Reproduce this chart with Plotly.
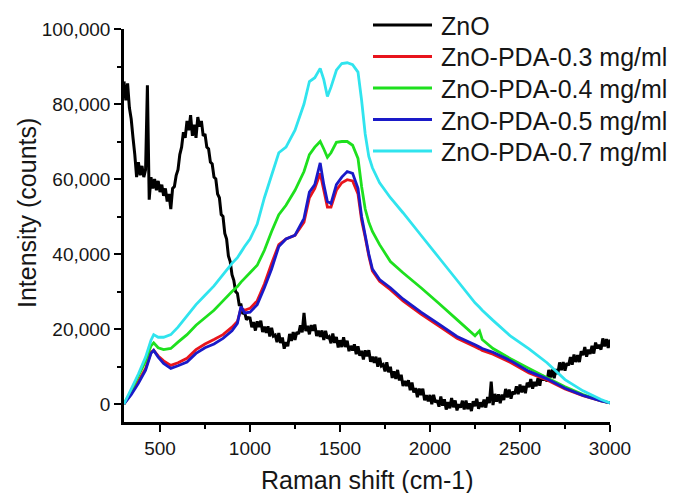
import plotly.graph_objects as go

# ---------------------------------------------------------------- data
series_names = [
    "ZnO",
    "ZnO-PDA-0.3 mg/ml",
    "ZnO-PDA-0.4 mg/ml",
    "ZnO-PDA-0.5 mg/ml",
    "ZnO-PDA-0.7 mg/ml",
]
series_colors = ["#000000", "#e8141c", "#1ee01e", "#1a1ac8", "#30e4ee"]

# bare ZnO spectrum, sampled every 10 cm-1 from 300 to 3000
zno_shift = list(range(300, 3001, 10))
zno_counts = [
    86000, 81000, 85500, 79000, 76000, 71000, 66500, 60500, 64500, 61000,   # 300-390
    63500, 60500, 62500, 85000, 54500, 60500, 57500, 60000, 57000, 59500,   # 400-490
    56500, 58500, 55500, 57500, 54000, 56000, 52000, 57500, 58000, 61000,   # 500-590
    62500, 66500, 68500, 72500, 71000, 75500, 73000, 77000, 71500, 74500,   # 600-690
    71000, 76500, 74000, 75500, 71500, 72000, 68500, 68000, 64500, 64000,   # 700-790
    60500, 60000, 56000, 55000, 50500, 50000, 45500, 44000, 39500, 38000,   # 800-890
    34500, 33000, 30000, 29500, 26500, 26500, 24000, 24500, 22500, 23000,   # 900-990
    22900, 20460, 21820, 19580, 22040, 20500, 22200, 19200, 20600, 19000,   # 1000-1090
    20700, 18000, 20300, 18100, 18400, 16500, 18940, 16280, 17720, 14760,   # 1100-1190
    16500, 15400, 18700, 16800, 19200, 17100, 19200, 18700, 21000, 19100,   # 1200-1290
    24300, 19460, 20820, 18580, 21040, 19500, 21180, 18160, 19540, 17920,   # 1300-1390
    19600, 17060, 19520, 17480, 17940, 16200, 18800, 16300, 17900, 15100,   # 1400-1490
    17000, 15200, 17800, 15200, 16900, 14100, 15500, 14300, 15900, 13300,   # 1500-1590
    15400, 12900, 14200, 11900, 14300, 12700, 14340, 11280, 12620, 10960,   # 1600-1690
    12600, 9960, 12320, 10180, 10540, 8700, 11140, 8480, 9920, 6960,        # 1700-1790
    8700, 6700, 9100, 6300, 7800, 4800, 6120, 4840, 6360, 3680,             # 1800-1890
    5700, 3080, 4260, 1840, 4120, 2400, 4060, 1020, 2380, 740,              # 1900-1990
    2400, -80, 2440, 460, 980, -700, 1980, -440, 1240, -1480,               # 2000-2090
    500, -1160, 1580, -880, 960, -1700, -40, -980, 880, -1460,              # 2100-2190
    900, -1360, 180, -1880, 760, -600, 1420, -1260, 460, -820,              # 2200-2290
    1200, -960, 1880, 220, 6000, -300, 2700, 600, 2600, 200,                # 2300-2390
    2500, 1060, 4020, 1780, 3840, 1400, 3300, 2600, 4700, 2600,             # 2400-2490
    5200, 3100, 4800, 2900, 5700, 4500, 6640, 4080, 5920, 4760,             # 2500-2590
    6900, 4860, 7820, 6280, 7240, 6000, 9100, 7100, 9200, 6900,             # 2600-2690
    9300, 8000, 11100, 9000, 11200, 8900, 10900, 10300, 12500, 10500,       # 2700-2790
    13200, 11200, 13000, 11200, 14100, 13000, 15160, 12620, 14480, 13340,   # 2800-2890
    15500, 13440, 16380, 14820, 15760, 14500, 17480, 15360, 17340, 14920,   # 2900-2990
    17200,                                                                  # 3000
]

# ZnO-PDA spectra share one sampling grid
pda_shift = [
    300, 340, 380, 420, 450, 465, 490, 520, 560, 600,
    650, 700, 750, 800, 850, 900, 930, 950, 970, 1000,
    1040, 1080, 1120, 1160, 1200, 1250, 1300, 1330, 1360, 1390,
    1410, 1430, 1450, 1480, 1510, 1540, 1570, 1600, 1620, 1640,
    1660, 1680, 1720, 1780, 1850, 1950, 2050, 2150, 2250, 2275,
    2290, 2350, 2450, 2550, 2650, 2750, 2850, 2950, 3000,
]
pda_03 = [
    0, 2800, 6000, 9500, 13800, 14300, 12800, 11500, 10300, 11000,
    12200, 14500, 16000, 17200, 18500, 20500, 22000, 25500, 25000, 25500,
    27500, 32000, 37500, 42500, 44000, 45000, 48500, 55000, 57500, 61500,
    57000, 52500, 52500, 57000, 59000, 59800, 59500, 56000, 49000, 44500,
    39500, 35500, 32700, 30500, 27500, 24000, 20800, 17500, 15300, 14700,
    14300, 13300, 11000, 8300, 6400, 4000, 2200, 800, 300,
]
pda_04 = [
    0, 3500, 7500, 11500, 15500, 16300, 15000, 14500, 14800, 16500,
    18500, 21000, 23000, 25000, 27500, 30000, 31300, 32500, 33500, 35000,
    37000, 41000, 46000, 50500, 53000, 57000, 62000, 66500, 68500, 70000,
    68000, 65800, 67000, 69800, 70000, 70000, 69000, 65500, 58000, 52000,
    48500, 46000, 42500, 38000, 35000, 31000, 26800, 22500, 18200, 19500,
    17200, 14800, 12000, 9500, 7000, 4600, 2500, 900, 300,
]
pda_05 = [
    0, 2500, 5500, 9000, 13500, 14300, 12500, 10800, 9500, 10200,
    11200, 13500, 15000, 16000, 17500, 19500, 21500, 26000, 24300, 24500,
    26500, 31000, 36000, 42000, 44000, 45000, 49500, 56500, 58500, 64300,
    58500, 54000, 53500, 58500, 60500, 62000, 61500, 57500, 50000, 45000,
    40000, 36000, 33200, 31000, 28000, 24500, 21300, 18000, 15800, 15200,
    14800, 13800, 11500, 8700, 6700, 4200, 2300, 800, 300,
]
pda_07 = [
    0, 4000, 8000, 12500, 17000, 18500, 17800, 17800, 18500, 20500,
    23500, 26500, 29000, 31500, 34500, 37500, 39000, 40500, 42000, 44000,
    48000, 55000, 61000, 67000, 68500, 73000, 80000, 86000, 87000, 89500,
    86500, 82000, 84500, 89000, 90800, 91000, 90500, 88500, 81000, 72000,
    66000, 63000, 59000, 55000, 51000, 45000, 39000, 33000, 27000, 25800,
    25000, 22300, 18000, 14700, 11000, 6500, 3500, 1200, 300,
]

x_ticks = [500, 1000, 1500, 2000, 2500, 3000]
y_ticks = [0, 20000, 40000, 60000, 80000, 100000]

# ---------------------------------------------------------------- layout geometry (px)
W, H = 675, 494
L, R, T, B = 124, 65, 29, 72
PW, PH = W - L - R, H - T - B


def px_x(px):
    return (px - L) / PW


def px_y(py):
    return (H - B - py) / PH


FONT = "Liberation Sans, Arial, sans-serif"
TEXT = "#161616"

fig = go.Figure()

xs = [zno_shift, pda_shift, pda_shift, pda_shift, pda_shift]
ys = [zno_counts, pda_03, pda_04, pda_05, pda_07]
widths = [3.0, 2.8, 2.8, 2.8, 2.8]
for name, color, x, y, w in zip(series_names, series_colors, xs, ys, widths):
    fig.add_trace(go.Scatter(
        x=x, y=y, mode="lines", name=name,
        line=dict(color=color, width=w, simplify=False),
        showlegend=False, hoverinfo="skip",
    ))

# legend drawn as line samples with labels
shapes = []
annotations = []
row_y = [25, 56.5, 88, 119.5, 151]
for name, color, ry in zip(series_names, series_colors, row_y):
    shapes.append(dict(
        type="line", xref="paper", yref="paper",
        x0=px_x(373), x1=px_x(432), y0=px_y(ry), y1=px_y(ry),
        line=dict(color=color, width=2.8),
    ))
    annotations.append(dict(
        text=name, xref="paper", yref="paper",
        x=px_x(439), y=px_y(ry + 1), xanchor="left", yanchor="middle",
        showarrow=False, font=dict(family=FONT, size=25, color=TEXT),
    ))

# axis titles
annotations.append(dict(
    text="Raman shift (cm-1)", xref="paper", yref="paper",
    x=px_x(367), y=px_y(480), xanchor="center", yanchor="middle",
    height=26, valign="middle", borderpad=0,
    showarrow=False, font=dict(family=FONT, size=25, color=TEXT),
))
annotations.append(dict(
    text="Intensity (counts)", xref="paper", yref="paper",
    x=px_x(27), y=px_y(213), xanchor="center", yanchor="middle",
    textangle=-90, showarrow=False, font=dict(family=FONT, size=25, color=TEXT),
))

axis_common = dict(
    showline=True, linecolor="#000000", linewidth=2.5,
    ticks="outside", ticklen=7, tickwidth=2, tickcolor="#000000",
    showgrid=False, zeroline=False,
    tickfont=dict(family=FONT, size=19, color=TEXT),
)

fig.update_layout(
    width=W, height=H,
    margin=dict(l=L, r=R, t=T, b=B, pad=0),
    paper_bgcolor="white", plot_bgcolor="white",
    shapes=shapes, annotations=annotations,
    xaxis=dict(
        range=[300, 3000], tickvals=x_ticks,
        minor=dict(ticks="outside", ticklen=4, tickwidth=2, tickcolor="#000000",
                   tick0=0, dtick=250),
        **axis_common,
    ),
    yaxis=dict(
        range=[-4800, 100000], tickvals=y_ticks, tickformat=",d",
        minor=dict(ticks="outside", ticklen=4, tickwidth=2, tickcolor="#000000",
                   tick0=0, dtick=10000),
        **axis_common,
    ),
)

fig.write_html("out.html")
